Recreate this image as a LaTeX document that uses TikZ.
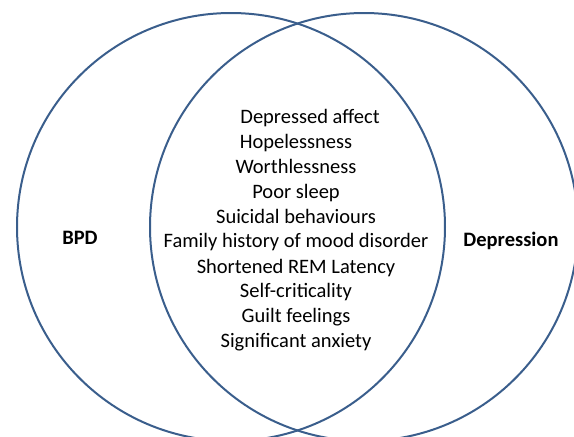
\documentclass[tikz,border=0pt]{standalone}
\usepackage{fontspec}
\setmainfont{Carlito}
\definecolor{ringblue}{RGB}{58,94,140}
\begin{document}
\begin{tikzpicture}[x=1pt,y=-1pt,
  ring/.style={draw=ringblue,line width=2pt},
  item/.style={font=\fontsize{20.5}{24}\selectfont,inner sep=0pt,text height=0.7em,text depth=0.25em},
  setlabel/.style={font=\fontsize{20.5}{24}\selectfont\bfseries,inner sep=0pt,text height=0.7em,text depth=0.25em}]
\useasboundingbox (0,0) rectangle (574,437);
\clip (0,0) rectangle (574,437);
\node[ring,circle,minimum size=428pt,inner sep=0pt] (bpdset) at (231,227) {};
\node[ring,circle,minimum size=428pt,inner sep=0pt] (depset) at (364,227) {};
\node[setlabel] (bpd) at (80,242) {BPD};
\node[setlabel] (dep) at (511,244) {Depression};
\node[item] (i1) at (310,121) {Depressed affect};
\node[item] (i2) at (296,146) {Hopelessness};
\node[item] (i3) at (296,171) {Worthlessness};
\node[item] (i4) at (296,196) {Poor sleep};
\node[item] (i5) at (296,221) {Suicidal behaviours};
\node[item] (i6) at (296,245) {Family history of mood disorder};
\node[item] (i7) at (296,271) {Shortened REM Latency};
\node[item] (i8) at (296,295) {Self-criticality};
\node[item] (i9) at (296,320) {Guilt feelings};
\node[item] (i10) at (296,345) {Significant anxiety};
\end{tikzpicture}
\end{document}
